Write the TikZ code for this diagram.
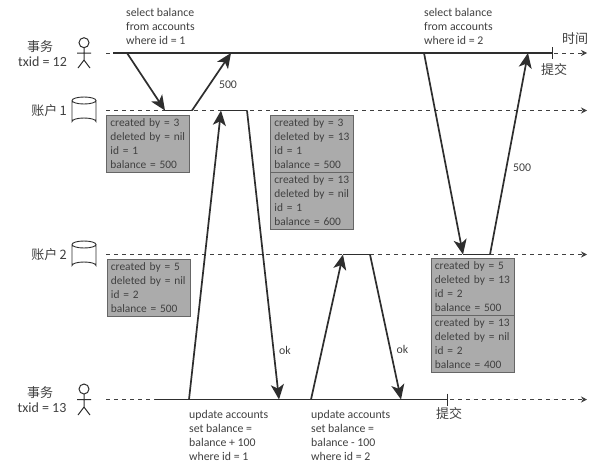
\documentclass[tikz,border=0pt]{standalone}
\usepackage{fontspec}
\setmainfont{Carlito}
\newfontfamily\cjk{Noto Sans CJK SC}
\usetikzlibrary{arrows.meta}
\definecolor{ink}{HTML}{2E2E2E}
\definecolor{txt}{HTML}{404040}
\definecolor{boxfill}{HTML}{ABABAB}
\definecolor{boxline}{HTML}{666666}
\newcommand\rowlines[4]{\hspace*{4pt}#1\\\hspace*{4pt}#2\\\hspace*{4pt}#3\\\hspace*{4pt}#4}
\tikzset{
  x=1pt,y=-1pt,
  label text/.style={font=\fontsize{11.8}{14}\selectfont,text=txt,inner sep=0pt,align=left},
  row box/.style={label text,font=\fontsize{11.4}{14}\selectfont,draw=boxline,line width=0.8pt,fill=boxfill,anchor=north west,
    minimum width=83pt,minimum height=57pt,text width=83pt,inner xsep=0pt,inner ysep=0pt},
  cjk text/.style={font=\cjk\fontsize{13}{15}\selectfont,text=txt,inner sep=0pt,align=center},
  side text/.style={font=\fontsize{14}{15}\selectfont,text=txt,inner sep=0pt},
  solidline/.style={draw=ink,line width=1.6pt},
  msg/.style={draw=ink,line width=1.7pt,-{Stealth[length=15pt,width=13pt,inset=4pt]}},
  timeline/.style={draw=txt,line width=0.7pt,dash pattern=on 3.5pt off 4.5pt,-{Stealth[length=6pt,width=6pt]}},
  figure line/.style={draw=ink,line width=1pt},
}
\begin{document}
\begin{tikzpicture}
\useasboundingbox[fill=white] (0,0) rectangle (593,464);
% time lines
\coordinate (t1s) at (106,53); \coordinate (t1e) at (587,53);
\coordinate (a1s) at (106,110.5); \coordinate (a1e) at (587,110.5);
\coordinate (a2s) at (106,254.5); \coordinate (a2e) at (587,254.5);
\coordinate (t2s) at (106,399.5); \coordinate (t2e) at (587,399.5);
\draw[timeline] (t1s) -- (t1e);
\draw[timeline] (a1s) -- (a1e);
\draw[timeline] (a2s) -- (a2e);
\draw[timeline] (t2s) -- (t2e);
% solid spans
\coordinate (t1a) at (113,53); \coordinate (t1b) at (552,53);
\coordinate (t1bu) at (552,47); \coordinate (t1bd) at (552,59);
\coordinate (t2a) at (155,399.5); \coordinate (t2b) at (447,399.5);
\coordinate (t2bu) at (447,393.5); \coordinate (t2bd) at (447,405.5);
\draw[solidline] (t1a) -- (t1b);
\draw[solidline] (t2a) -- (t2b);
\draw[figure line] (t1bu) -- (t1bd);
\draw[figure line] (t2bu) -- (t2bd);
% message points
\coordinate (m1) at (127,53); \coordinate (m2) at (165,110.5);
\coordinate (m3) at (192,110.5); \coordinate (m4) at (231,53);
\coordinate (m5) at (189,399.5); \coordinate (m6) at (221,110.5);
\coordinate (m7) at (247,110.5); \coordinate (m8) at (279,399.5);
\coordinate (m9) at (311,399.5); \coordinate (m10) at (343,254.5);
\coordinate (m11) at (370,254.5); \coordinate (m12) at (401,399.5);
\coordinate (m13) at (424,53); \coordinate (m14) at (463,254.5);
\coordinate (m15) at (490,254.5); \coordinate (m16) at (528,53);
% boxes first so the lines stay on top
\node[row box] (b1) at (106,115) {\rowlines{created by = 3}{deleted by = nil}{id = 1}{balance = 500}};
\node[row box] (b2) at (270,115) {\rowlines{created by = 3}{deleted by = 13}{id = 1}{balance = 500}};
\node[row box] (b3) at (270,172) {\rowlines{created by = 13}{deleted by = nil}{id = 1}{balance = 600}};
\node[row box] (b4) at (106.5,258.5) {\rowlines{created by = 5}{deleted by = nil}{id = 2}{balance = 500}};
\node[row box] (b5) at (430.5,258) {\rowlines{created by = 5}{deleted by = 13}{id = 2}{balance = 500}};
\node[row box] (b6) at (430.5,315) {\rowlines{created by = 13}{deleted by = nil}{id = 2}{balance = 400}};
\draw[solidline] (m2) -- (m3);
\draw[solidline] (m6) -- (m7);
\draw[solidline] (m10) -- (m11);
\draw[solidline] (m14) -- (m15);
\draw[msg] (m1) -- (m2);
\draw[msg] (m3) -- (m4);
\draw[msg] (m5) -- (m6);
\draw[msg] (m7) -- (m8);
\draw[msg] (m9) -- (m10);
\draw[msg] (m11) -- (m12);
\draw[msg] (m13) -- (m14);
\draw[msg] (m15) -- (m16);
% actors
\draw[figure line] (84,42.7) circle (5);
\draw[figure line] (84,47.7) -- (84,60) (77,53) -- (91,53) (78,68) -- (84,60) -- (90,68);
\draw[figure line] (84,389) circle (5);
\draw[figure line] (84,394) -- (84,407) (77,399.5) -- (91,399.5) (78,415) -- (84,407) -- (90,415);
% databases
\draw[figure line,line width=0.9pt] (72,100.5) arc[start angle=180,end angle=-180,x radius=12,y radius=3.5]
  (72,100.5) -- (72,121.5) arc[start angle=180,end angle=360,x radius=12,y radius=3.5] -- (96,100.5);
\draw[figure line,line width=0.9pt] (72,244.5) arc[start angle=180,end angle=-180,x radius=12,y radius=3.5]
  (72,244.5) -- (72,265.5) arc[start angle=180,end angle=360,x radius=12,y radius=3.5] -- (96,244.5);
% labels
\node[cjk text] (l1) at (40,47) {事务};
\node[side text] (l2) at (42.5,62) {txid = 12};
\node[cjk text,anchor=east] (l3) at (67,110.5) {账户\,{\fontsize{13}{15}\selectfont 1}};
\node[cjk text,anchor=east] (l4) at (67,254.5) {账户\,{\fontsize{13}{15}\selectfont 2}};
\node[cjk text] (l5) at (40,393) {事务};
\node[side text] (l6) at (42,408) {txid = 13};
\node[cjk text] (l7) at (575,39) {时间};
\node[cjk text] (l8) at (554,70) {提交};
\node[cjk text] (l9) at (449,414) {提交};
\node[label text,anchor=west] (q1) at (126,26) {select balance\\from accounts\\where id = 1};
\node[label text,anchor=west] (q2) at (424,26) {select balance\\from accounts\\where id = 2};
\node[label text,anchor=west] (q3) at (189,435) {update accounts\\set balance =\\balance + 100\\where id = 1};
\node[label text,anchor=west] (q4) at (311,435) {update accounts\\set balance =\\balance - 100\\where id = 2};
\node[label text] (r1) at (228,84.5) {500};
\node[label text] (r2) at (522,168) {500};
\node[label text] (r3) at (285,350) {ok};
\node[label text] (r4) at (402.5,349.5) {ok};
\end{tikzpicture}
\end{document}
